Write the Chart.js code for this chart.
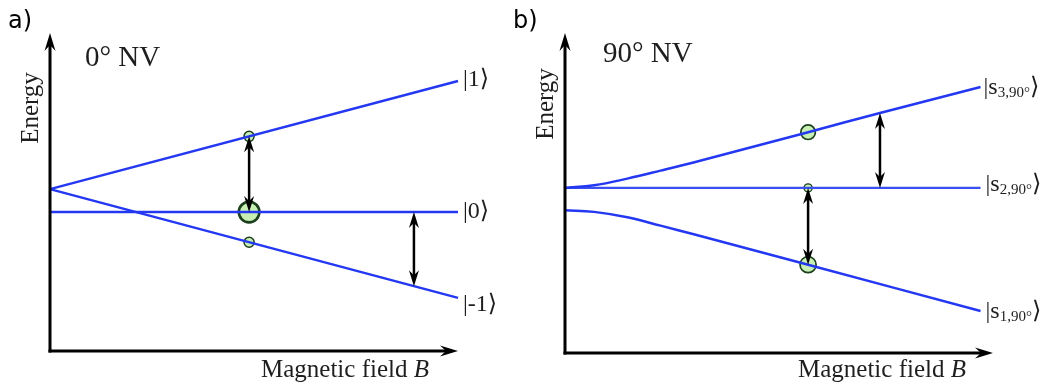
<!DOCTYPE html>
<html><head><meta charset="utf-8">
<script src="https://cdn.jsdelivr.net/npm/chart.js@4.4.1/dist/chart.umd.min.js"></script>
<style>
html,body{margin:0;padding:0;background:#fff;}
#wrap{position:relative;width:1044px;height:386px;overflow:hidden;background:#fff;}
.pane{position:absolute;top:0;height:386px;}
canvas{display:block;}
</style></head><body>
<div id="wrap">
<div class="pane" style="left:0;width:500px"><canvas id="ca" width="500" height="386" style="width:500px;height:386px"></canvas></div>
<div class="pane" style="left:500px;width:544px"><canvas id="cb" width="544" height="386" style="width:544px;height:386px"></canvas></div>
</div>
<script>
// ---------- Panel a: 0° NV ----------
const aFieldX = [0, 10];
const aLevelUp = [50.9, 84.9];     // |1>
const aLevelZero = [43.7, 43.7];   // |0>
const aLevelDown = [50.9, 16.7];   // |-1>
const aKets = ['|1⟩', '|0⟩', '|-1⟩'];
const aDotX = [4.88, 4.88, 4.88];
const aDotY = [67.5, 43.7, 34.2];
const aDotWeight = [1.1, 4.6, 1.1];  // relative population
const aArrowX = [4.88, 8.92];
const aArrowFrom = [67.5, 43.7];
const aArrowTo = [43.7, 20.4];

// ---------- Panel b: 90° NV ----------
const bFieldX3 = [0, 0.7, 1.5, 2.3, 3.25, 5.85, 7.58, 10];
const bLevelS3 = [51.6, 52.4, 54.5, 57.0, 60.1, 69.0, 75.0, 83.1];
const bFieldX2 = [0, 10];
const bLevelS2 = [51.6, 51.6];
const bFieldX1 = [0, 0.7, 1.5, 2.3, 3.1, 5.85, 10];
const bLevelS1 = [44.6, 44.1, 42.4, 39.8, 37.1, 27.6, 13.1];
const bKetSub = ['3,90°', '2,90°', '1,90°'];
const bDotX = [5.85, 5.85, 5.85];
const bDotY = [69.0, 51.6, 27.6];
const bDotWeight = [2.3, 0.7, 2.8];
const bArrowX = [5.85, 7.58];
const bArrowFrom = [51.6, 75.0];
const bArrowTo = [27.6, 51.6];

const BLUE = '#2438f2';
const DOT_FILL = '#c8efb4';
const DOT_EDGE = '#1c3f1c';
const SERIF = '"Liberation Serif", "DejaVu Serif", serif';

const zip = (xs, ys) => xs.map((x, i) => ({x, y: ys[i]}));
const radius = w => 4.8 * Math.sqrt(w);

function stealth(ctx, tx, ty, dx, dy, len, half, notch) {
  const px = -dy, py = dx;
  const bx = tx - dx * len, by = ty - dy * len;
  const nx = tx - dx * notch, ny = ty - dy * notch;
  ctx.beginPath();
  ctx.moveTo(tx, ty);
  ctx.lineTo(bx + px * half, by + py * half);
  ctx.lineTo(nx, ny);
  ctx.lineTo(bx - px * half, by - py * half);
  ctx.closePath();
  ctx.fill();
}

const decor = {
  id: 'decor',
  afterDatasetsDraw(chart, args, o) {
    const ctx = chart.ctx, a = chart.chartArea, xs = chart.scales.x, ys = chart.scales.y;
    ctx.save();
    ctx.strokeStyle = '#000'; ctx.fillStyle = '#000';
    // axes with arrow heads
    ctx.lineWidth = 3;
    ctx.beginPath(); ctx.moveTo(a.left, a.bottom + 1.5); ctx.lineTo(a.left, a.top + 10); ctx.stroke();
    stealth(ctx, a.left, a.top, 0, -1, 18, 5.5, 12);
    ctx.beginPath(); ctx.moveTo(a.left - 1.5, a.bottom); ctx.lineTo(a.right - 10, a.bottom); ctx.stroke();
    stealth(ctx, a.right, a.bottom, 1, 0, 18, 5.5, 12);
    // transition arrows
    ctx.lineWidth = 2.5;
    o.arrowX.forEach((xv, i) => {
      const x = xs.getPixelForValue(xv);
      const y1 = ys.getPixelForValue(o.arrowFrom[i]);
      const y2 = ys.getPixelForValue(o.arrowTo[i]);
      const dir = y2 > y1 ? 1 : -1;
      ctx.beginPath(); ctx.moveTo(x, y1 + dir * 9); ctx.lineTo(x, y2 - dir * 9); ctx.stroke();
      stealth(ctx, x, y1, 0, -dir, 16, 5, 11);
      stealth(ctx, x, y2, 0, dir, 16, 5, 11);
    });
    // ket labels at the end of each level
    ctx.fillStyle = '#1e1e1e';
    ctx.textBaseline = 'alphabetic'; ctx.textAlign = 'left';
    o.ketOff.forEach((off, i) => {
      const pts = chart.getDatasetMeta(i).data;
      const p = pts[pts.length - 1];
      let x = p.x + off[0];
      const y = p.y + off[1];
      if (o.ketSub) {
        ctx.font = '24px ' + SERIF;
        ctx.fillText('|s', x, y); x += ctx.measureText('|s').width;
        ctx.font = '15px ' + SERIF;
        ctx.fillText(o.ketSub[i], x, y + 3); x += ctx.measureText(o.ketSub[i]).width;
        ctx.font = '24px ' + SERIF;
        ctx.fillText('⟩', x, y);
      } else {
        ctx.font = '24px ' + SERIF;
        ctx.fillText(o.kets[i], x, y);
      }
    });
    // panel letter
    ctx.fillStyle = '#000';
    ctx.font = '24px "DejaVu Sans", sans-serif';
    ctx.fillText(o.letter, o.letterPos[0], o.letterPos[1]);
    // title
    ctx.fillStyle = '#1e1e1e';
    ctx.font = '29px ' + SERIF;
    ctx.fillText(o.title, o.titlePos[0], o.titlePos[1]);
    // x-axis label
    ctx.font = '25px ' + SERIF;
    const t1 = 'Magnetic field ';
    ctx.fillText(t1, o.xLabelPos[0], o.xLabelPos[1]);
    const w1 = ctx.measureText(t1).width;
    ctx.font = 'italic 25px ' + SERIF;
    ctx.fillText('B', o.xLabelPos[0] + w1, o.xLabelPos[1]);
    // y-axis label
    ctx.font = '25px ' + SERIF;
    ctx.translate(o.yLabelPos[0], o.yLabelPos[1]);
    ctx.rotate(-Math.PI / 2);
    ctx.textAlign = 'center';
    ctx.fillText('Energy', 0, 0);
    ctx.restore();
  }
};

function lineDs(xs, ys, width, color, smooth) {
  return {
    data: zip(xs, ys), showLine: true, borderColor: color, borderWidth: width,
    pointRadius: 0, fill: false, order: 1, clip: false,
    tension: smooth ? 0.4 : 0
  };
}
function dotDs(xs, ys, weights, bw) {
  return {
    data: zip(xs, ys), showLine: false, order: 2, clip: false,
    pointRadius: weights.map(radius), pointHoverRadius: weights.map(radius),
    pointBackgroundColor: DOT_FILL, pointBorderColor: DOT_EDGE, pointBorderWidth: bw
  };
}
function opts(padding, xmax, d) {
  return {
    responsive: false, animation: false, events: [],
    layout: { padding },
    scales: {
      x: { type: 'linear', min: 0, max: xmax, display: false },
      y: { type: 'linear', min: 0, max: 100, display: false }
    },
    plugins: { legend: { display: false }, tooltip: { enabled: false }, decor: d }
  };
}

new Chart(document.getElementById('ca'), {
  type: 'scatter',
  data: { datasets: [
    lineDs(aFieldX, aLevelUp, 2.5, BLUE, false),
    lineDs(aFieldX, aLevelZero, 2.5, BLUE, false),
    lineDs(aFieldX, aLevelDown, 2.5, BLUE, false),
    dotDs(aDotX, aDotY, aDotWeight, [1.5, 2.6, 1.5])
  ]},
  options: opts({ left: 50, top: 33, right: 42, bottom: 35 }, 10, {
    arrowX: aArrowX, arrowFrom: aArrowFrom, arrowTo: aArrowTo,
    kets: aKets, ketOff: [[5, 5], [5, 6], [5, 13]],
    letter: 'a)', letterPos: [8, 28],
    title: '0° NV', titlePos: [85, 66],
    xLabelPos: [261, 377], yLabelPos: [38, 108]
  }),
  plugins: [decor]
});

new Chart(document.getElementById('cb'), {
  type: 'scatter',
  data: { datasets: [
    lineDs(bFieldX3, bLevelS3, 2.5, BLUE, true),
    lineDs(bFieldX2, bLevelS2, 2.2, '#3a50f0', false),
    lineDs(bFieldX1, bLevelS1, 2.5, BLUE, true),
    dotDs(bDotX, bDotY, bDotWeight, [1.7, 1.4, 1.7])
  ]},
  options: opts({ left: 65, top: 33, right: 51, bottom: 33 }, 10.3, {
    arrowX: bArrowX, arrowFrom: bArrowFrom, arrowTo: bArrowTo,
    ketSub: bKetSub, ketOff: [[3, 6.5], [5, 3.5], [5, 6.5]],
    letter: 'b)', letterPos: [13, 28],
    title: '90° NV', titlePos: [103, 62],
    xLabelPos: [298, 377], yLabelPos: [53, 104]
  }),
  plugins: [decor]
});
</script>
</body></html>
